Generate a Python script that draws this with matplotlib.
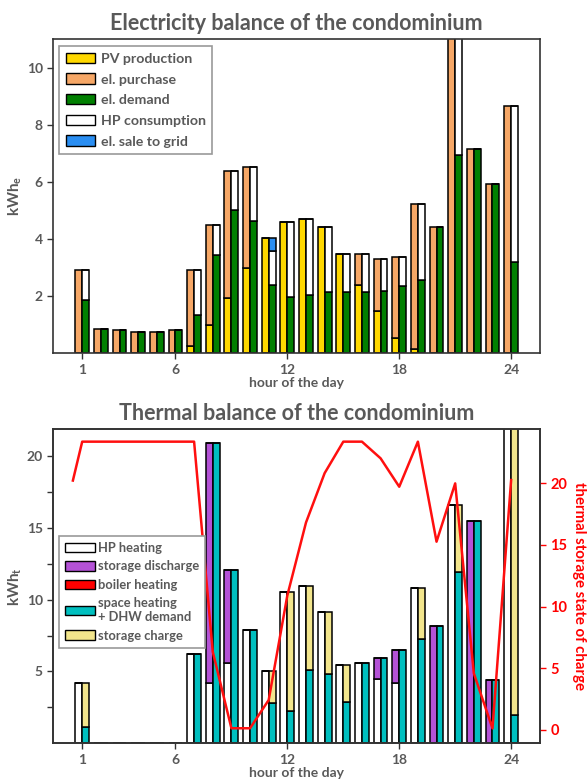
import matplotlib
matplotlib.use("Agg")
import matplotlib.pyplot as plt
import numpy as np
from matplotlib.patches import Patch

plt.rcParams['font.family'] = ['Lato', 'DejaVu Sans']
plt.rcParams['font.weight'] = 'bold'

GRAY = '#595959'

hours = np.arange(1, 25)
xticks = [1, 6, 12, 18, 24]

# ---- electricity balance (kWh_e)
pv_production = [0, 0, 0, 0, 0, 0.02, 0.26, 0.98, 1.94, 2.99, 4.03, 4.59, 4.71, 4.42,
                 3.49, 2.38, 1.48, 0.55, 0.16, 0, 0, 0, 0, 0]
el_purchase = [2.9, 0.86, 0.8, 0.76, 0.76, 0.78, 2.64, 3.52, 4.44, 3.54, 0, 0, 0, 0,
               0, 1.11, 1.81, 2.83, 5.07, 4.41, 11.6, 7.15, 5.92, 8.65]
el_demand = [1.88, 0.86, 0.8, 0.76, 0.76, 0.8, 1.33, 3.45, 5.02, 4.62, 2.38, 1.98, 2.03, 2.13,
             2.13, 2.13, 2.17, 2.34, 2.55, 4.41, 6.94, 7.15, 5.92, 3.2]
hp_consumption = [1.02, 0, 0, 0, 0, 0, 1.57, 1.05, 1.36, 1.91, 1.21, 2.61, 2.68, 2.29,
                  1.36, 1.36, 1.12, 1.04, 2.68, 0, 4.66, 0, 0, 5.45]
el_sale = [0, 0, 0, 0, 0, 0, 0, 0, 0, 0, 0.44, 0, 0, 0,
           0, 0, 0, 0, 0, 0, 0, 0, 0, 0]

# ---- thermal balance (kWh_t)
hp_heating = [4.19, 0, 0, 0, 0, 0, 6.22, 4.19, 5.6, 7.9, 5.02, 10.54, 10.95, 9.15,
              5.42, 5.6, 4.49, 4.21, 10.84, 0, 16.56, 0, 0, 24.0]
storage_discharge = [0, 0, 0, 0, 0, 0, 0, 16.68, 6.43, 0, 0, 0, 0, 0,
                     0, 0, 1.43, 2.31, 0, 8.13, 0, 15.44, 4.38, 0]
boiler_heating = [0] * 24
heat_demand = [1.15, 0, 0, 0, 0, 0, 6.22, 20.87, 12.03, 7.9, 2.81, 2.28, 5.07, 4.84,
               2.87, 5.6, 5.92, 6.52, 7.26, 8.13, 11.93, 15.44, 4.38, 2.0]
storage_charge = [3.04, 0, 0, 0, 0, 0, 0, 0, 0, 0, 2.21, 8.26, 5.88, 4.31,
                  2.55, 0, 0, 0, 3.58, 0, 4.63, 0, 0, 22.0]

soc_hours = [0.5] + list(range(1, 25))
soc = [20.2, 23.35, 23.35, 23.35, 23.35, 23.35, 23.35, 23.35, 6.34, 0.14, 0.14, 2.43,
       10.9, 16.8, 20.8, 23.35, 23.35, 22.0, 19.7, 23.35, 15.25, 19.97, 4.59, 0.13, 20.24]

C_PV = '#FFD800'
C_PUR = '#F6A766'
C_DEM = '#018001'
C_SALE = '#2A8EF2'
C_DIS = '#B452D6'
C_BOIL = '#FF0000'
C_TH = '#00BFBF'
C_CH = '#F2E58C'

W = 0.37
EC = 'black'
LW = 1.1

fig = plt.figure(figsize=(5.87, 7.79), dpi=100)
ax1 = fig.add_axes([0.0908, 0.5465, 0.8292, 0.4031])
ax3 = fig.add_axes([0.0908, 0.0458, 0.8292, 0.4031])

xl = hours - W / 2
xr = hours + W / 2

# top chart
b_pv = np.array(pv_production)
ax1.bar(xl, pv_production, W, color=C_PV, edgecolor=EC, lw=LW)
ax1.bar(xl, el_purchase, W, bottom=b_pv, color=C_PUR, edgecolor=EC, lw=LW)
b_d = np.array(el_demand)
ax1.bar(xr, el_demand, W, color=C_DEM, edgecolor=EC, lw=LW)
ax1.bar(xr, hp_consumption, W, bottom=b_d, color='white', edgecolor=EC, lw=LW)
ax1.bar(xr, el_sale, W, bottom=b_d + np.array(hp_consumption), color=C_SALE, edgecolor=EC, lw=LW)

ax1.set_xlim(-0.55, 25.55)
ax1.set_ylim(0, 11)
ax1.set_yticks([2, 4, 6, 8, 10])
ax1.set_xticks(xticks)
ax1.set_title('Electricity balance of the condominium', color=GRAY, fontsize=15.5,
              fontweight='bold', pad=7)
ax1.set_xlabel('hour of the day', color=GRAY, fontsize=10, fontweight='bold', labelpad=1)
ax1.set_ylabel('kWh$_\\mathregular{e}$', color=GRAY, fontsize=11, fontweight='bold', labelpad=2)

h_top = [Patch(facecolor=C_PV, edgecolor=EC, label='PV production'),
         Patch(facecolor=C_PUR, edgecolor=EC, label='el. purchase'),
         Patch(facecolor=C_DEM, edgecolor=EC, label='el. demand'),
         Patch(facecolor='white', edgecolor=EC, label='HP consumption'),
         Patch(facecolor=C_SALE, edgecolor=EC, label='el. sale to grid')]
leg1 = ax1.legend(handles=h_top, loc='upper left', bbox_to_anchor=(0.012, 0.977),
                  borderaxespad=0, fancybox=False, edgecolor='#999999', framealpha=1,
                  handlelength=2.1, handleheight=0.75, labelspacing=0.6, handletextpad=0.4,
                  prop={'size': 10.2, 'weight': 'bold'}, labelcolor=GRAY, borderpad=0.45)
leg1.get_frame().set_linewidth(1.2)

# bottom chart
b_hp = np.array(hp_heating)
ax3.bar(xl, hp_heating, W, color='white', edgecolor=EC, lw=LW)
ax3.bar(xl, storage_discharge, W, bottom=b_hp, color=C_DIS, edgecolor=EC, lw=LW)
ax3.bar(xl, boiler_heating, W, bottom=b_hp + np.array(storage_discharge), color=C_BOIL,
        edgecolor=EC, lw=LW)
b_th = np.array(heat_demand)
ax3.bar(xr, heat_demand, W, color=C_TH, edgecolor=EC, lw=LW)
ax3.bar(xr, storage_charge, W, bottom=b_th, color=C_CH, edgecolor=EC, lw=LW)

ax3.set_xlim(-0.55, 25.55)
ax3.set_ylim(0, 21.85)
ax3.set_yticks([5, 10, 15, 20])
ax3.set_yticks([2.5, 7.5, 12.5, 17.5], minor=True)
ax3.set_xticks(xticks)
ax3.set_title('Thermal balance of the condominium', color=GRAY, fontsize=15.5,
              fontweight='bold', pad=7)
ax3.set_xlabel('hour of the day', color=GRAY, fontsize=10, fontweight='bold', labelpad=1)
ax3.set_ylabel('kWh$_\\mathregular{t}$', color=GRAY, fontsize=11, fontweight='bold', labelpad=2)

ax4 = ax3.twinx()
ax4.plot(soc_hours, soc, color='#FF0F0F', lw=1.8)
ax4.set_ylim(-1.08, 24.35)
ax4.set_yticks([0, 5, 10, 15, 20])
ax4.tick_params(axis='y', colors='red', labelsize=10.5, length=4, width=1)
for t in ax4.get_yticklabels():
    t.set_fontweight('bold')
ax4.set_ylabel('thermal storage state of charge', color='red', fontsize=10.8,
               fontweight='bold', rotation=270, labelpad=13)

h_bot = [Patch(facecolor='white', edgecolor=EC, label='HP heating'),
         Patch(facecolor=C_DIS, edgecolor=EC, label='storage discharge'),
         Patch(facecolor=C_BOIL, edgecolor=EC, label='boiler heating'),
         Patch(facecolor=C_TH, edgecolor=EC, label='space heating\n+ DHW demand'),
         Patch(facecolor=C_CH, edgecolor=EC, label='storage charge')]
leg2 = ax4.legend(handles=h_bot, loc='upper left', bbox_to_anchor=(0.012, 0.66),
                  borderaxespad=0, fancybox=False, edgecolor='#999999', framealpha=1,
                  handlelength=2.3, handleheight=0.75, labelspacing=0.5, handletextpad=0.25,
                  prop={'size': 9.3, 'weight': 'bold'}, labelcolor=GRAY, borderpad=0.45)
leg2.get_frame().set_linewidth(1.2)

for ax in (ax1, ax3, ax4):
    for s in ax.spines.values():
        s.set_color('#333333')
        s.set_linewidth(1.2)
for ax in (ax1, ax3):
    ax.tick_params(axis='both', which='both', colors='#333333', labelcolor=GRAY,
                   labelsize=10, length=4, width=1)
    for t in ax.get_xticklabels() + ax.get_yticklabels():
        t.set_fontweight('bold')
ax3.tick_params(axis='y', which='minor', length=4, width=1)

fig.savefig('out.png', dpi=100)
